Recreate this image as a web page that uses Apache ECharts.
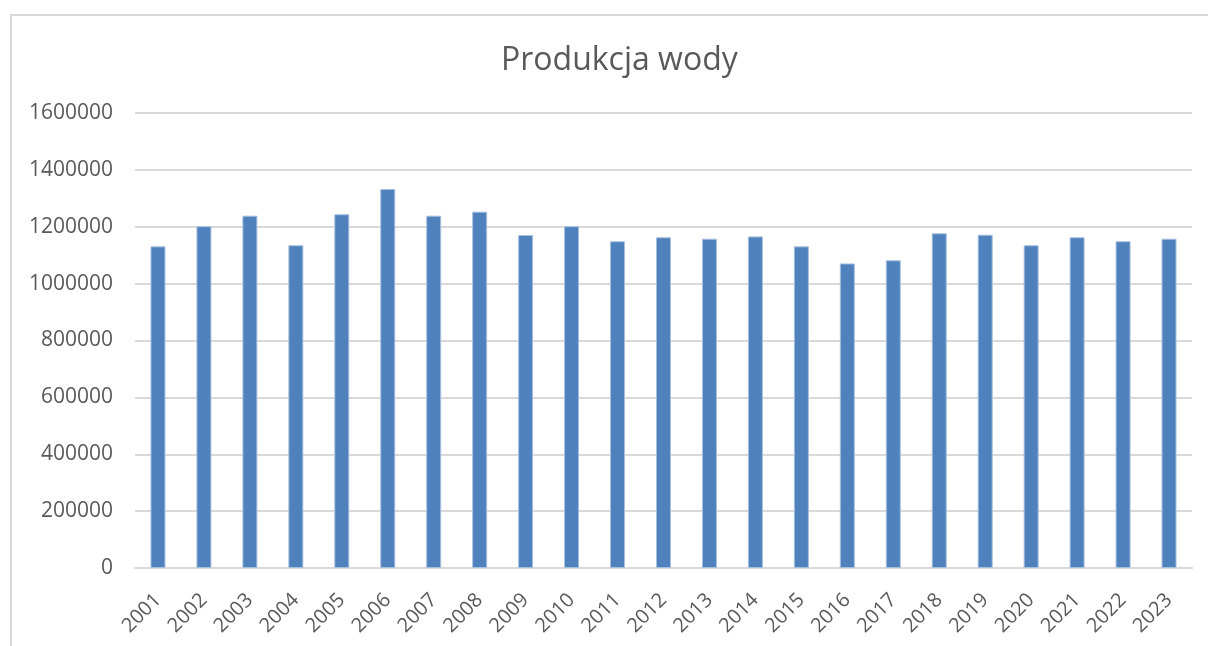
<!DOCTYPE html>
<html>
<head>
<meta charset="utf-8">
<script src="https://cdn.jsdelivr.net/npm/echarts@6/dist/echarts.min.js"></script>
<style>
html, body { margin: 0; padding: 0; background: #fff; }
#frame {
  position: absolute;
  left: 10px;
  top: 14px;
  width: 1300px;
  height: 700px;
  border-left: 2px solid #d9d9d9;
  border-top: 2px solid #d9d9d9;
}
#chart {
  position: absolute;
  left: 0;
  top: 0;
  width: 1208px;
  height: 646px;
}
</style>
</head>
<body>
<div id="frame"></div>
<div id="chart"></div>
<script>
// lata i produkcja wody
var years = ['2001','2002','2003','2004','2005','2006','2007','2008','2009','2010','2011','2012',
  '2013','2014','2015','2016','2017','2018','2019','2020','2021','2022','2023'];
var production = [1131000, 1202000, 1239000, 1135000, 1244000, 1333000, 1239000, 1253000, 1171000, 1202000,
  1149000, 1163000, 1158000, 1166000, 1131000, 1071000, 1082000, 1177000, 1172000, 1135000,
  1163000, 1149000, 1158000];
var yTicks = [0, 200000, 400000, 600000, 800000, 1000000, 1200000, 1400000, 1600000];

var myChart = echarts.init(document.getElementById('chart'));
var option = {
  animation: false,
  title: {
    text: 'Produkcja wody',
    left: 496,
    top: 40,
    textStyle: {
      color: '#595959',
      fontFamily: 'Open Sans',
      fontSize: 32,
      fontWeight: 'normal'
    }
  },
  grid: {
    left: 135,
    right: 16,
    top: 113,
    bottom: 78,
    containLabel: false
  },
  xAxis: {
    type: 'category',
    data: years,
    axisLine: { lineStyle: { color: '#d9d9d9', width: 2 } },
    axisTick: { show: false },
    axisLabel: {
      rotate: 45,
      color: '#595959',
      fontFamily: 'Open Sans',
      fontSize: 20,
      margin: 29
    }
  },
  yAxis: {
    type: 'value',
    min: yTicks[0],
    max: yTicks[yTicks.length - 1],
    interval: 200000,
    axisLine: { show: false },
    axisTick: { show: false },
    splitLine: { lineStyle: { color: '#d9d9d9', width: 2 } },
    axisLabel: {
      color: '#595959',
      fontFamily: 'Open Sans',
      fontSize: 21,
      margin: 22,
      formatter: function (v) { return String(v); }
    }
  },
  series: [{
    name: 'Produkcja wody',
    type: 'bar',
    data: production,
    barWidth: 15,
    itemStyle: {
      color: '#4f81bd',
      borderColor: '#a7c0de',
      borderWidth: 1
    }
  }]
};
myChart.setOption(option);
</script>
</body>
</html>
